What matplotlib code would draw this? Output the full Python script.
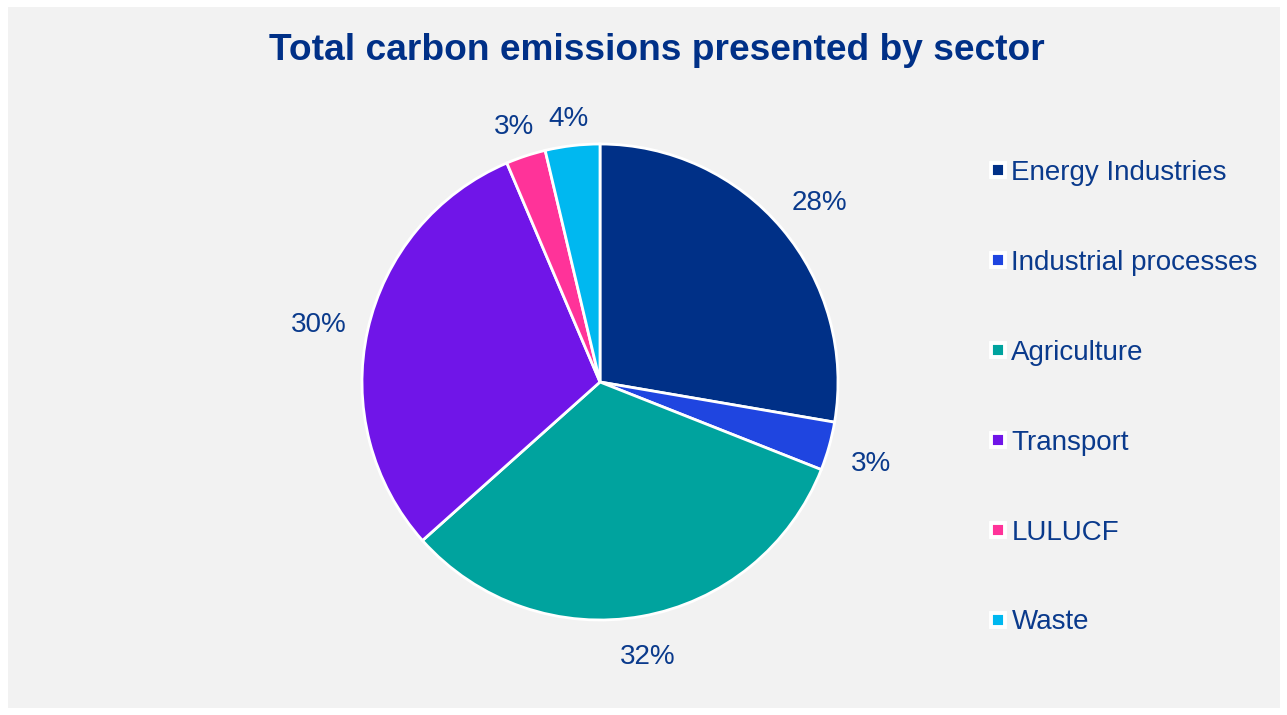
import numpy as np
import matplotlib.pyplot as plt
from matplotlib.lines import Line2D
from matplotlib.patches import Rectangle

plt.rcParams['font.family'] = ['Liberation Sans', 'DejaVu Sans']

sectors = ["Energy Industries", "Industrial processes", "Agriculture",
           "Transport", "LULUCF", "Waste"]
shares = [27.7, 3.3, 32.4, 30.2, 2.7, 3.7]
colors = ["#003087", "#1F45E0", "#00A39E", "#7015E8", "#FF3399", "#00B8F0"]

txt = "#0A3A8C"
W, H = 1287, 715

fig = plt.figure(figsize=(W / 100, H / 100), dpi=100)
fig.patch.set_facecolor("white")
fig.patches.append(Rectangle((8 / W, 7 / H), 1272 / W, 701 / H,
                             transform=fig.transFigure, facecolor="#F2F2F2",
                             edgecolor="none", zorder=-1))

# pie axes: centre (600, 382) px, radius 238 px
r = 238
ax = fig.add_axes([(600 - r) / W, 1 - (382 + r) / H, 2 * r / W, 2 * r / H])
wedges, texts, autotexts = ax.pie(
    shares, colors=colors, startangle=90, counterclock=False,
    autopct="%.0f%%", pctdistance=1.18,
    wedgeprops=dict(edgecolor="white", linewidth=2),
    textprops=dict(color=txt, fontsize=20))
ax.set_xlim(-1, 1)
ax.set_ylim(-1, 1)
ax.set_aspect("equal")

# "outside end" labels: label box sits a fixed gap outside the rim
fig.canvas.draw()
rend = fig.canvas.get_renderer()
gap = 21
for w, t in zip(wedges, autotexts):
    th = np.deg2rad((w.theta1 + w.theta2) / 2)
    bw = t.get_window_extent(rend).width
    bh = 20
    d = r + gap + abs(np.cos(th)) * bw / 2 + abs(np.sin(th)) * bh / 2
    t.set_position((d / r * np.cos(th), (d * np.sin(th) - 6) / r))

fig.text(657 / W, 1 - 50 / H, "Total carbon emissions presented by sector",
         ha="center", va="center", fontsize=26.7, fontweight="bold", color="#003087")

handles = [Line2D([], [], marker="s", linestyle="none", markerfacecolor=c,
                  markeredgecolor="white", markersize=10, markeredgewidth=2.8)
           for c in colors]
leg = fig.legend(handles, sectors, loc="upper left",
                 bbox_to_anchor=(987.8 / W, 1 - 160 / H),
                 frameon=False, fontsize=20, labelcolor=txt,
                 handlelength=0.7, handletextpad=0.15, labelspacing=2.3,
                 borderpad=0, borderaxespad=0)

fig.savefig("out.png", dpi=100, facecolor=fig.get_facecolor())
